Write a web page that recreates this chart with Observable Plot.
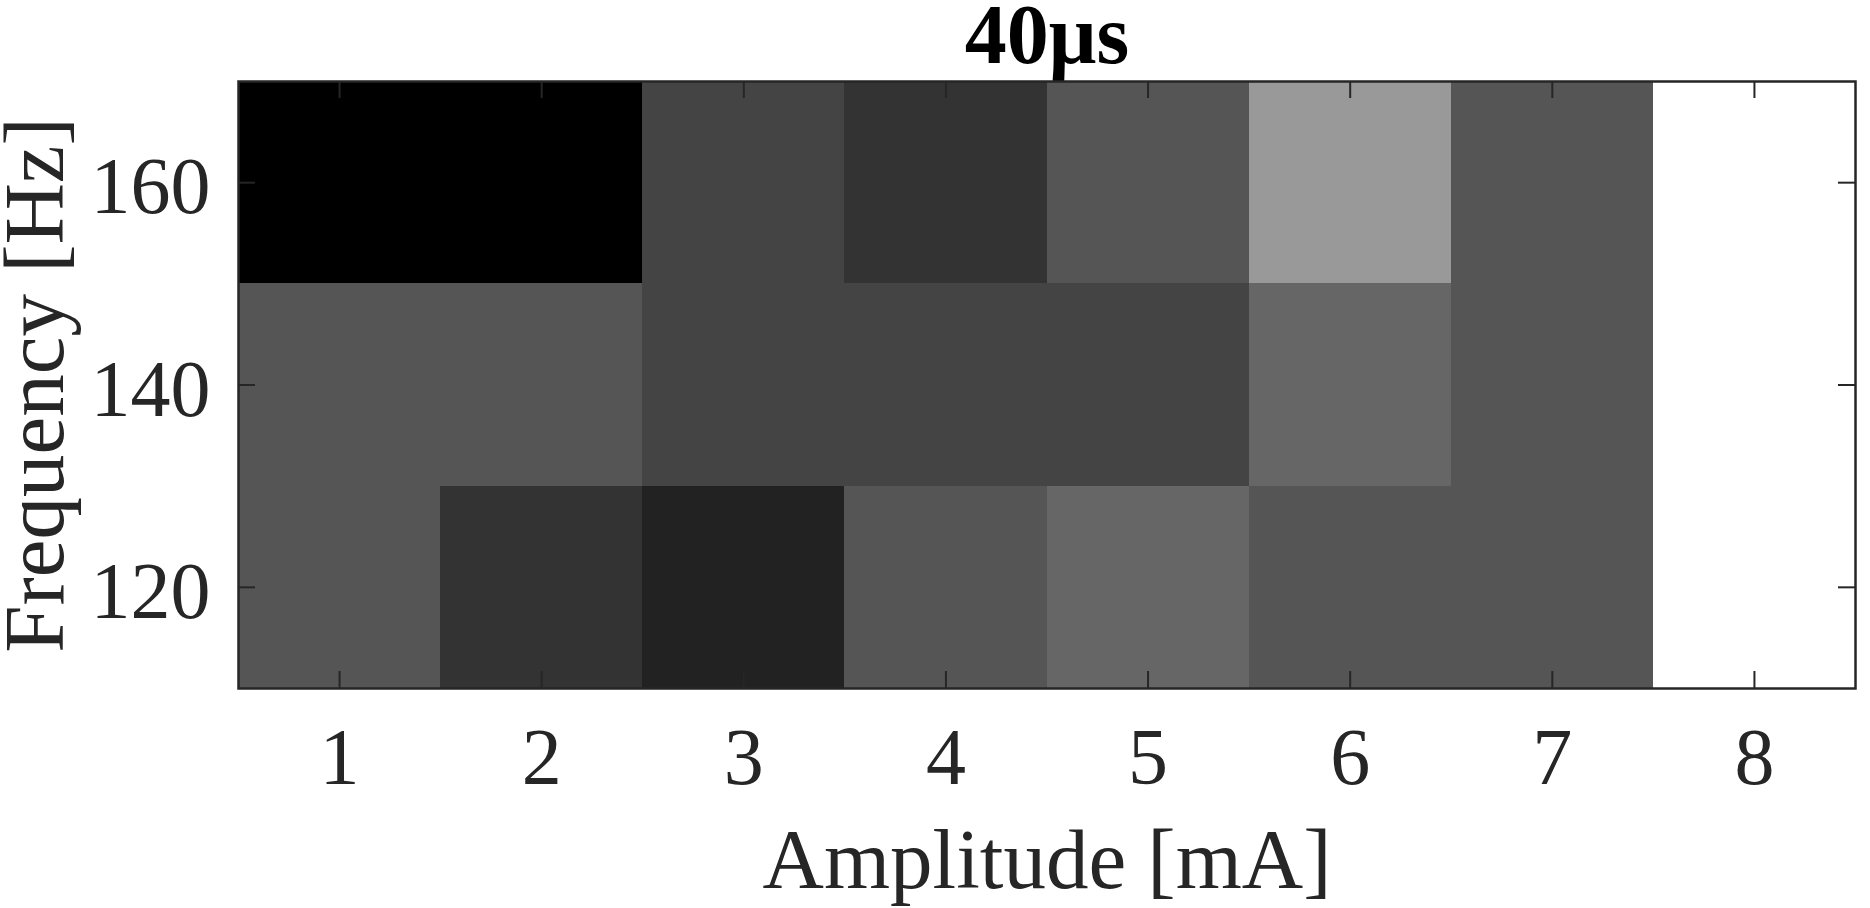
<!DOCTYPE html>
<html>
<head>
<meta charset="utf-8">
<script src="https://cdn.jsdelivr.net/npm/d3@7"></script>
<script src="https://cdn.jsdelivr.net/npm/@observablehq/plot@0.6"></script>
<style>
  html, body { margin: 0; padding: 0; background: #fff; }
  #chart svg { display: block; }
</style>
</head>
<body>
<div id="chart"></div>
<script>
// ---- data ----
const amplitudes = [1, 2, 3, 4, 5, 6, 7, 8];          // mA (columns)
const frequencies = [120, 140, 160];                   // Hz (rows)
// gray level per cell (0 = black … 15 = white)
const values160 = [0, 0, 4, 3, 5, 9, 5, 15];
const values140 = [5, 5, 4, 4, 4, 6, 5, 15];
const values120 = [5, 3, 2, 5, 6, 5, 5, 15];
const xTicks = [1, 2, 3, 4, 5, 6, 7, 8];
const yTicks = [120, 140, 160];
const titleText = "40μs";
const xLabel = "Amplitude [mA]";
const yLabel = "Frequency [Hz]";

const rows = {120: values120, 140: values140, 160: values160};
const cells = frequencies.flatMap(f =>
  amplitudes.map((a, i) => ({amp: a, freq: f, value: rows[f][i]}))
);

const ink = "#262626";
const font = '"Liberation Serif", "Times New Roman", Times, serif';

const plot = Plot.plot({
  width: 1870,
  height: 908,
  marginLeft: 238,
  marginRight: 15,
  marginTop: 81,
  marginBottom: 220,
  style: {fontFamily: font, background: "white", color: ink},
  x: {domain: [0.5, 8.5], axis: null},
  y: {domain: [110, 170], axis: null},
  color: {type: "linear", domain: [0, 15], range: ["#000000", "#ffffff"]},
  marks: [
    Plot.rect(cells, {
      x1: d => d.amp - 0.5, x2: d => d.amp + 0.5,
      y1: d => d.freq - 10, y2: d => d.freq + 10,
      fill: "value", shapeRendering: "crispEdges"
    }),
    // inward ticks on all four sides
    Plot.tickX(xTicks, {x: d => d, stroke: ink, strokeWidth: 2, insetTop: 590}),
    Plot.tickX(xTicks, {x: d => d, stroke: ink, strokeWidth: 2, insetBottom: 590}),
    Plot.tickY(yTicks, {y: d => d, stroke: ink, strokeWidth: 2, insetRight: 1600}),
    Plot.tickY(yTicks, {y: d => d, stroke: ink, strokeWidth: 2, insetLeft: 1600}),
    Plot.axisX(xTicks, {tickSize: 0, tickPadding: 39, fontSize: 80, fill: ink, label: null,
      tickFormat: d => String(d)}),
    Plot.axisY(yTicks, {tickSize: 0, tickPadding: 28, fontSize: 80, fill: ink, label: null,
      tickFormat: d => String(d), dy: 5}),
    Plot.text([titleText], {text: d => d, frameAnchor: "top", dy: -19, lineAnchor: "bottom",
      textAnchor: "middle", fontSize: 84, fontWeight: "bold", fill: "#000"}),
    Plot.text([xLabel], {text: d => d, frameAnchor: "bottom", dy: 199, lineAnchor: "bottom",
      textAnchor: "middle", fontSize: 85, fill: ink}),
    Plot.text([yLabel], {text: d => d, frameAnchor: "left", dx: -176, rotate: -90, lineAnchor: "bottom",
      textAnchor: "middle", fontSize: 85, fill: ink}),
    Plot.frame({stroke: ink, strokeWidth: 2.5})
  ]
});
document.getElementById("chart").appendChild(plot);
</script>
</body>
</html>
